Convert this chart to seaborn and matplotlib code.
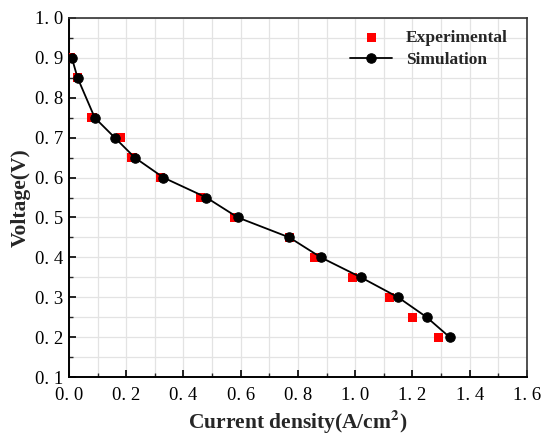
import matplotlib
matplotlib.use("Agg")
import matplotlib.pyplot as plt
import seaborn as sns
import pandas as pd
from matplotlib.ticker import MultipleLocator, FuncFormatter

# Polarization data
exp_current = [0.005, 0.03, 0.08, 0.18, 0.22, 0.32, 0.46, 0.58, 0.77, 0.86, 0.99, 1.12, 1.20, 1.29]
exp_voltage = [0.90, 0.85, 0.75, 0.70, 0.65, 0.60, 0.55, 0.50, 0.45, 0.40, 0.35, 0.30, 0.25, 0.20]
sim_current = [0.01, 0.03, 0.09, 0.16, 0.23, 0.33, 0.48, 0.59, 0.77, 0.88, 1.02, 1.15, 1.25, 1.33]
sim_voltage = [0.90, 0.85, 0.75, 0.70, 0.65, 0.60, 0.55, 0.50, 0.45, 0.40, 0.35, 0.30, 0.25, 0.20]

exp_df = pd.DataFrame({"current": exp_current, "voltage": exp_voltage})
sim_df = pd.DataFrame({"current": sim_current, "voltage": sim_voltage})

sns.set_theme(style="white")
plt.rcParams["font.family"] = ["Liberation Serif", "DejaVu Serif"]
plt.rcParams["mathtext.fontset"] = "stix"

fig = plt.figure(figsize=(5.41, 4.38), dpi=100)
ax = fig.add_axes([0.1275, 0.139, 0.8465, 0.820])

sns.scatterplot(data=exp_df, x="current", y="voltage", ax=ax, marker="s",
                color="#ff0000", s=45, edgecolor="none", label="Experimental", zorder=3)
sns.lineplot(data=sim_df, x="current", y="voltage", ax=ax, marker="o",
             color="black", markersize=6.8, markeredgecolor="black", linewidth=1.3,
             label="Simulation", sort=False, zorder=4)

ax.set_xlim(0, 1.6)
ax.set_ylim(0.1, 1.0)
ax.xaxis.set_major_locator(MultipleLocator(0.2))
ax.xaxis.set_minor_locator(MultipleLocator(0.1))
ax.yaxis.set_major_locator(MultipleLocator(0.1))
ax.yaxis.set_minor_locator(MultipleLocator(0.05))

fmt = FuncFormatter(lambda v, p: f"{v:.1f}".replace(".", ". "))
ax.xaxis.set_major_formatter(fmt)
ax.yaxis.set_major_formatter(fmt)

ax.grid(True, which="both", color="#e3e3e3", linewidth=0.9)
ax.set_axisbelow(True)

ax.tick_params(which="major", direction="in", length=5, width=1.2, labelsize=13.5,
               colors="black", bottom=True, left=True)
ax.tick_params(which="minor", direction="in", length=3, width=1.0, bottom=True, left=True)
ax.tick_params(axis="x", which="major", pad=7)
ax.tick_params(axis="y", which="major", pad=4)

for side in ["left", "bottom"]:
    ax.spines[side].set_color("black")
    ax.spines[side].set_linewidth(1.4)
for side in ["top", "right"]:
    ax.spines[side].set_color("#333333")
    ax.spines[side].set_linewidth(1.2)

ax.set_xlabel("Current density(A/cm$^\\mathbf{2}$)", fontsize=15.5, fontweight="bold", labelpad=3)
ax.set_ylabel("Voltage(V)", fontsize=15.5, fontweight="bold", labelpad=3)

leg = ax.legend(loc="upper right", frameon=False, prop={"weight": "bold", "size": 12.5},
                handlelength=2.4, borderaxespad=0.3, labelspacing=0.35, handletextpad=0.8,
                bbox_to_anchor=(0.985, 1.0))

fig.savefig("out.png", dpi=100)
